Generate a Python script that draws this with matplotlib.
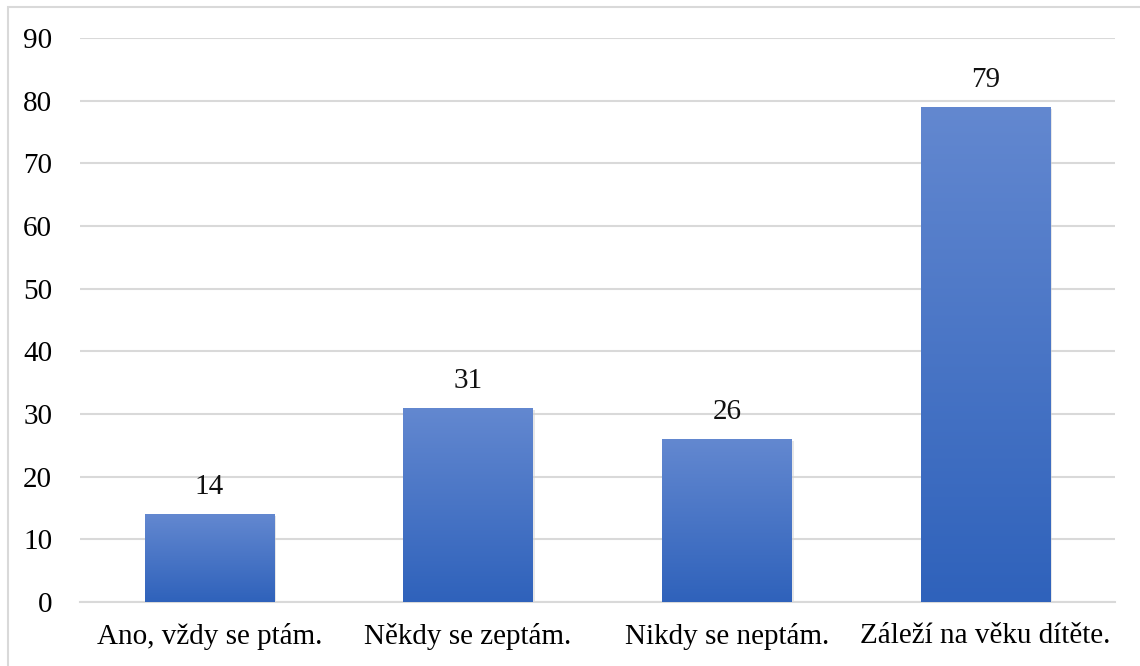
import matplotlib
matplotlib.use("Agg")
import matplotlib.pyplot as plt
import numpy as np
from matplotlib.patches import Rectangle
from matplotlib.colors import LinearSegmentedColormap

categories = ["Ano, vždy se ptám.", "Někdy se zeptám.", "Nikdy se neptám.", "Záleží na věku dítěte."]
values = [14, 31, 26, 79]
yticks = list(range(0, 91, 10))

plt.rcParams['font.family'] = ['Liberation Serif', 'DejaVu Serif']
FS = 21

fig = plt.figure(figsize=(11.4, 6.66), dpi=100)
ax = fig.add_axes([80/1140, 1-602/666, (1115-80)/1140, (602-38)/666])

cmap = LinearSegmentedColormap.from_list("g", ["#2f62bb", "#6388d0"])
width = 0.5
x = np.arange(len(categories))
bars = ax.bar(x, values, width=width, color="none", zorder=3)
grad = np.linspace(0, 1, 256).reshape(-1, 1)
for xi, v, b in zip(x, values, bars):
    # soft shadow
    sh = Rectangle((xi - width/2 + 0.004, -0.3), width + 0.004, v,
                   facecolor="#d0d0d0", edgecolor="none", alpha=0.5, zorder=2)
    ax.add_patch(sh)
    im = ax.imshow(grad, extent=(xi - width/2, xi + width/2, 0, v), origin="lower",
                   cmap=cmap, aspect="auto", zorder=3)
    im.set_clip_path(b)
    ax.text(xi, v + 2.2, str(v), ha="center", va="bottom", fontsize=FS, color="#111111", zorder=4)

ax.set_xlim(-0.5, 3.5)
ax.set_ylim(0, 90)
ax.set_yticks(yticks)
ax.set_xticks(x)
ax.set_xticklabels(categories, fontsize=FS)
ax.tick_params(axis="y", labelsize=FS, length=0, pad=20)
ax.tick_params(axis="x", length=0, pad=15)
ax.grid(axis="y", color="#d9d9d9", linewidth=1.5, zorder=0)
ax.set_axisbelow(True)
for s in ["top", "right", "left"]:
    ax.spines[s].set_visible(False)
ax.spines["bottom"].set_color("#d9d9d9")
ax.spines["bottom"].set_linewidth(1.5)

fig.patches.append(Rectangle((8/1140, -0.01), 1.1, 1 - 7/666 + 0.01, transform=fig.transFigure,
                             fill=False, edgecolor="#d9d9d9", linewidth=1.5))

fig.savefig("out.png", dpi=100)
